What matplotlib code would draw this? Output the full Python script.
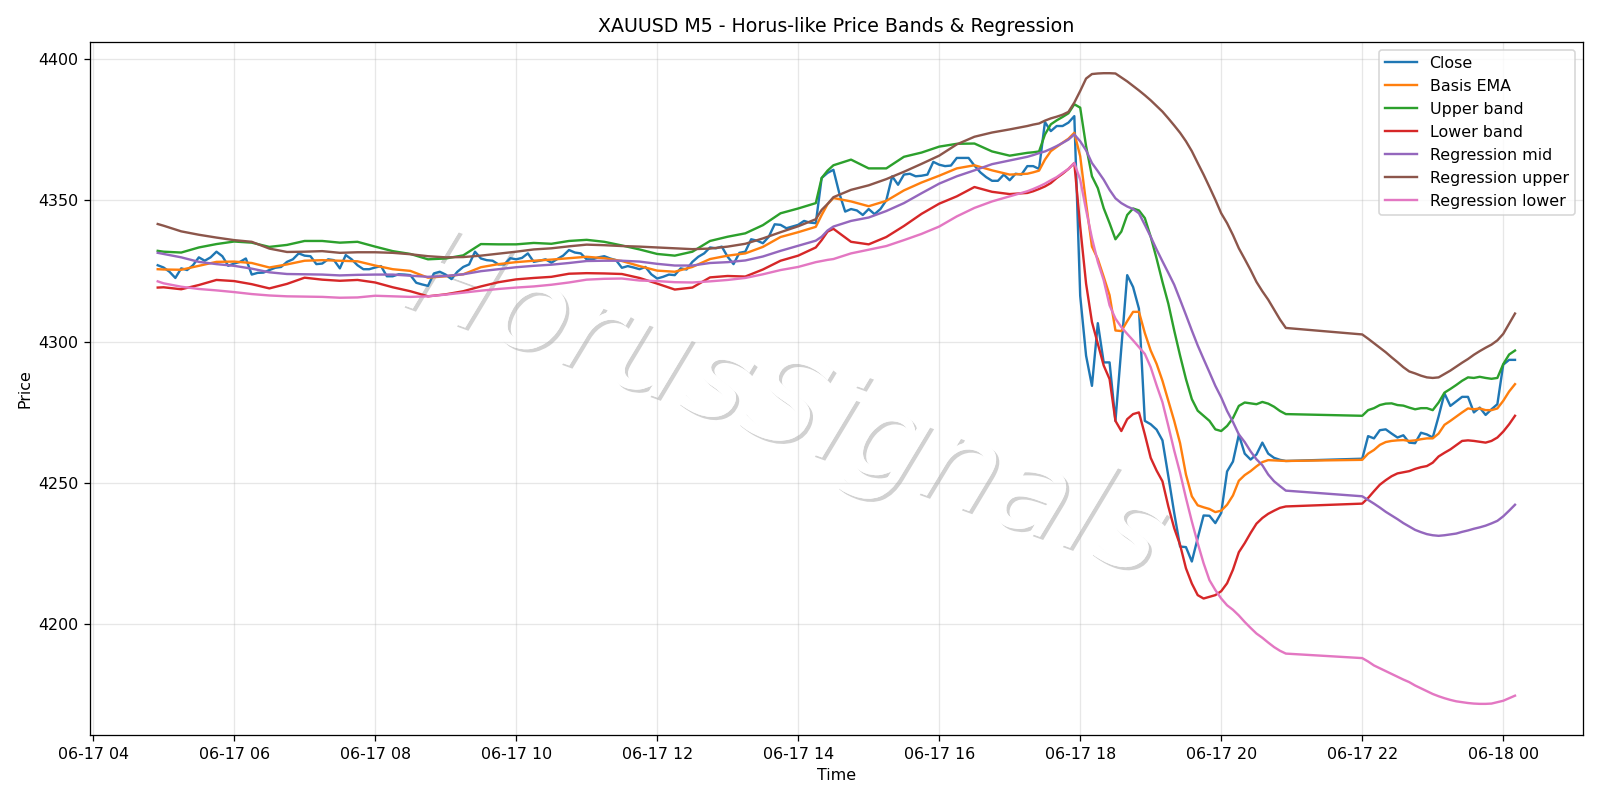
"""
XAUUSD M5 chart with Horus-like price bands and regression channel.
"""
import matplotlib
matplotlib.use('Agg')
import matplotlib.pyplot as plt
import matplotlib.patheffects as pe
import pandas as pd

# Close prices, one per M5 bar (04:55-20:55, then 22:00-00:10)
close = [
    # 04:55 - 08:20
    4327.0, 4326.2, 4324.7, 4322.5, 4325.9, 4325.3, 4327.0, 4329.8, 4328.6, 4329.8,
    4331.8, 4330.2, 4326.8, 4327.6, 4328.2, 4329.4, 4323.7, 4324.3, 4324.4, 4325.3,
    4326.1, 4326.4, 4328.2, 4329.1, 4331.2, 4330.4, 4330.2, 4327.4, 4327.6, 4329.1,
    4328.8, 4325.9, 4330.6, 4329.1, 4327.0, 4325.6, 4325.6, 4326.2, 4326.7, 4323.1,
    4323.1, 4323.8,
    # 08:25 - 12:00
    4323.7, 4323.5, 4320.8, 4320.2, 4319.7, 4324.1, 4324.7, 4323.7, 4322.1, 4324.7,
    4326.4, 4327.3, 4331.8, 4329.4, 4328.8, 4328.6, 4327.3, 4327.3, 4329.5, 4329.1,
    4329.6, 4331.2, 4328.2, 4328.6, 4329.1, 4327.9, 4329.2, 4330.4, 4332.4, 4331.5,
    4331.2, 4329.1, 4329.1, 4329.8, 4330.2, 4329.4, 4328.8, 4326.1, 4326.7, 4326.2,
    4325.6, 4326.4, 4323.8, 4322.3,
    # 12:05 - 15:25
    4322.9, 4323.7, 4323.5, 4325.9, 4325.5, 4328.2, 4330.0, 4331.2, 4333.3, 4333.0,
    4333.6, 4330.0, 4327.4, 4331.4, 4331.8, 4336.2, 4335.7, 4334.8, 4337.1, 4341.5,
    4341.3, 4340.1, 4340.7, 4341.3, 4342.7, 4342.1, 4341.9, 4357.9, 4359.7, 4360.8,
    4352.5, 4346.0, 4346.9, 4346.4, 4344.8, 4346.9, 4345.1, 4346.9, 4350.0, 4358.5,
    4355.5,
    # 15:30 - 17:55
    4359.1, 4359.4, 4358.5, 4358.7, 4359.1, 4363.6, 4362.6, 4362.1, 4362.3, 4365.0,
    4365.0, 4365.0, 4362.3, 4359.9, 4358.2, 4356.9, 4356.9, 4359.1, 4357.1, 4359.4,
    4359.1, 4362.1, 4362.1, 4361.1, 4377.7, 4374.5, 4376.3, 4376.3, 4377.5, 4379.8,
    # 18:00 - 20:55
    4316.2, 4295.0, 4284.3, 4306.5, 4292.6, 4292.6, 4271.9, 4297.5, 4323.5, 4319.3,
    4311.6, 4271.9, 4270.7, 4268.8, 4265.0, 4252.3, 4239.3, 4227.4, 4227.2, 4222.1,
    4230.4, 4238.4, 4238.3, 4235.7, 4239.3, 4254.0, 4257.5, 4267.0, 4260.3, 4258.2,
    4260.0, 4264.2, 4260.3, 4258.8, 4258.1, 4257.7,
    # 22:00 - 00:10
    4258.5, 4266.5, 4265.7, 4268.6, 4268.9, 4267.4, 4266.0, 4266.8, 4264.2, 4264.0,
    4267.7, 4267.1, 4266.0, 4273.5, 4281.6, 4277.2, 4278.8, 4280.4, 4280.4, 4274.9,
    4276.6, 4274.0, 4276.0, 4277.8, 4291.8, 4293.5, 4293.5,
]

# Band series sampled every 15 min until 17:15 (plus 04:55, 14:20, 14:25),
# then every 5 min from 17:20
basis_ema = [
    4325.6, 4325.5, 4325.4, 4326.8, 4328.2, 4328.3, 4327.8, 4326.2, 4327.3, 4328.6,
    4328.8, 4328.6, 4328.4, 4326.9, 4325.6, 4325.0, 4322.6, 4323.1, 4323.8, 4326.3,
    4327.4, 4328.1, 4328.6, 4329.0, 4329.5, 4330.0, 4329.5, 4328.5, 4326.7, 4325.1,
    4324.7, 4326.4, 4329.2, 4330.4, 4331.2, 4333.5, 4337.0, 4338.7, 4340.6, 4344.8,
    4348.6, 4350.8, 4349.6, 4347.9, 4349.8, 4353.5, 4356.3, 4358.7, 4361.3, 4362.4,
    4360.6, 4359.1, 4359.4,
    4359.9, 4360.5, 4364.4, 4367.4, 4368.9, 4370.4, 4371.8, 4373.9, 4365.6, 4349.0,
    4333.6, 4329.2, 4322.9, 4316.4, 4303.9, 4303.7, 4307.2, 4310.5, 4310.5, 4303.0,
    4296.8, 4292.1, 4286.1, 4279.0, 4271.9, 4264.0, 4252.9, 4245.2, 4242.0, 4241.3,
    4240.7, 4239.6, 4240.1, 4242.2, 4245.5, 4250.7, 4252.7, 4254.1, 4255.8, 4257.3,
    4258.0, 4257.9, 4257.8, 4257.7,
    4258.1, 4260.3, 4261.6, 4263.4, 4264.4, 4264.8, 4265.0, 4265.1, 4264.8, 4265.0,
    4265.4, 4265.7, 4265.7, 4267.4, 4270.5, 4271.9, 4273.4, 4274.9, 4276.3, 4276.0,
    4276.3, 4275.7, 4275.7, 4276.3, 4279.0, 4282.3, 4284.9,
]

upper_band = [
    4332.1, 4331.8, 4331.5, 4333.3, 4334.5, 4335.4, 4335.0, 4333.5, 4334.2, 4335.6,
    4335.6, 4335.0, 4335.3, 4333.6, 4332.0, 4331.0, 4329.1, 4329.4, 4330.5, 4334.5,
    4334.4, 4334.4, 4334.9, 4334.6, 4335.6, 4336.0, 4335.3, 4334.0, 4332.6, 4331.0,
    4330.4, 4331.8, 4335.6, 4337.1, 4338.3, 4341.2, 4345.4, 4347.1, 4349.0, 4357.9,
    4360.5, 4362.4, 4364.4, 4361.3, 4361.3, 4365.4, 4366.9, 4369.0, 4370.0, 4370.1,
    4367.3, 4365.8, 4366.8,
    4367.0, 4367.3, 4373.3, 4376.9, 4378.3, 4379.5, 4380.8, 4384.0, 4382.8, 4369.2,
    4358.5, 4354.3, 4347.2, 4341.9, 4336.2, 4338.9, 4344.8, 4347.1, 4346.4, 4343.7,
    4337.1, 4329.4, 4321.1, 4313.4, 4303.9, 4295.0, 4286.7, 4279.6, 4275.5, 4273.7,
    4271.9, 4268.9, 4268.3, 4270.1, 4272.9, 4277.2, 4278.4, 4278.1, 4277.8, 4278.6,
    4278.0, 4276.9, 4275.4, 4274.3,
    4273.7, 4275.7, 4276.4, 4277.5, 4278.0, 4278.1, 4277.5, 4277.3, 4276.6, 4276.0,
    4276.4, 4276.4, 4275.7, 4278.4, 4281.9, 4283.2, 4284.6, 4286.1, 4287.3, 4287.1,
    4287.5, 4287.1, 4286.8, 4287.1, 4292.0, 4295.4, 4296.8,
]

lower_band = [
    4319.1, 4319.2, 4318.5, 4320.0, 4321.8, 4321.4, 4320.3, 4318.8, 4320.4, 4322.6,
    4321.9, 4321.5, 4321.8, 4320.9, 4319.2, 4317.8, 4316.0, 4316.7, 4317.8, 4319.5,
    4321.0, 4322.0, 4322.5, 4322.9, 4324.0, 4324.2, 4324.1, 4323.9, 4322.5, 4320.5,
    4318.4, 4319.1, 4322.7, 4323.2, 4323.0, 4325.5, 4328.6, 4330.4, 4333.3, 4335.9,
    4338.9, 4339.9, 4335.3, 4334.4, 4337.0, 4340.9, 4345.2, 4348.8, 4351.4, 4354.7,
    4353.0, 4352.2, 4352.6,
    4353.2, 4354.0, 4354.9, 4356.1, 4357.9, 4359.4, 4361.1, 4363.2, 4340.7, 4320.5,
    4306.9, 4299.2, 4291.5, 4286.7, 4271.9, 4268.3, 4272.5, 4274.3, 4274.9, 4267.1,
    4258.8, 4254.3, 4250.5, 4241.6, 4233.9, 4228.0, 4219.7, 4214.3, 4210.2, 4209.0,
    4209.6, 4210.2, 4211.6, 4214.4, 4219.2, 4225.4, 4228.6, 4232.2, 4235.5, 4237.5,
    4239.0, 4240.1, 4241.1, 4241.6,
    4242.6, 4244.6, 4247.0, 4249.3, 4250.9, 4252.3, 4253.3, 4253.7, 4254.1, 4254.9,
    4255.5, 4255.9, 4257.1, 4259.3, 4260.6, 4261.8, 4263.3, 4264.8, 4265.0, 4264.8,
    4264.5, 4264.2, 4264.8, 4266.0, 4268.1, 4270.7, 4273.7,
]

reg_mid = [
    4331.4, 4331.0, 4329.8, 4328.2, 4327.4, 4326.8, 4325.8, 4324.5, 4323.9, 4323.8,
    4323.7, 4323.4, 4323.6, 4323.7, 4323.7, 4323.3, 4322.9, 4323.2, 4323.8, 4324.9,
    4325.6, 4326.3, 4326.8, 4327.2, 4327.8, 4328.5, 4328.6, 4328.6, 4328.3, 4327.5,
    4326.9, 4326.9, 4327.8, 4328.1, 4328.7, 4330.1, 4332.1, 4333.9, 4335.7, 4337.1,
    4339.3, 4340.7, 4342.7, 4343.9, 4346.2, 4349.0, 4352.5, 4355.9, 4358.5, 4360.6,
    4362.8, 4364.1, 4365.4,
    4366.0, 4366.7, 4367.3, 4368.2, 4369.2, 4370.3, 4371.5, 4373.3, 4370.9, 4367.7,
    4363.2, 4360.3, 4357.3, 4353.7, 4350.7, 4349.0, 4347.8, 4346.9, 4345.4, 4341.3,
    4337.1, 4332.6, 4328.4, 4324.3, 4320.1, 4314.8, 4309.4, 4303.9, 4298.6, 4293.8,
    4289.1, 4284.3, 4280.2, 4275.4, 4271.5, 4267.1, 4264.4, 4261.1, 4258.3, 4256.2,
    4252.9, 4250.5, 4248.8, 4247.2,
    4245.2, 4243.9, 4242.6, 4241.2, 4239.7, 4238.4, 4237.1, 4235.7, 4234.5, 4233.3,
    4232.5, 4231.8, 4231.4, 4231.2, 4231.4, 4231.7, 4232.0, 4232.6, 4233.1, 4233.7,
    4234.2, 4234.8, 4235.6, 4236.5, 4238.1, 4240.1, 4242.2,
]

reg_upper = [
    4341.6, 4341.0, 4339.0, 4337.8, 4336.8, 4335.9, 4335.3, 4332.9, 4331.7, 4331.8,
    4332.0, 4331.4, 4331.6, 4331.6, 4331.4, 4330.9, 4330.2, 4329.8, 4329.9, 4330.4,
    4331.1, 4331.8, 4332.6, 4333.0, 4333.7, 4334.3, 4334.1, 4333.8, 4333.6, 4333.3,
    4333.0, 4332.7, 4332.9, 4333.6, 4334.6, 4336.5, 4338.7, 4340.8, 4343.3, 4346.6,
    4348.7, 4351.1, 4353.7, 4355.3, 4357.5, 4360.1, 4362.9, 4365.8, 4369.8, 4372.5,
    4374.0, 4375.1, 4376.3,
    4376.8, 4377.2, 4378.2, 4379.0, 4379.6, 4380.3, 4381.3, 4384.6, 4388.7, 4393.1,
    4394.7, 4394.9, 4395.0, 4395.0, 4394.9, 4393.5, 4392.1, 4390.5, 4388.9, 4387.2,
    4385.4, 4383.4, 4381.4, 4379.0, 4376.5, 4373.9, 4370.9, 4367.4, 4363.2, 4359.1,
    4354.7, 4350.2, 4345.4, 4341.9, 4337.7, 4333.0, 4329.2, 4325.3, 4321.1, 4317.8,
    4314.8, 4311.3, 4307.8, 4304.8,
    4302.5, 4301.0, 4299.4, 4297.8, 4296.2, 4294.4, 4292.7, 4290.9, 4289.4, 4288.7,
    4287.9, 4287.3, 4287.1, 4287.3, 4288.5, 4289.7, 4291.1, 4292.5, 4293.8, 4295.3,
    4296.6, 4297.8, 4298.9, 4300.4, 4302.7, 4306.3, 4309.9,
]

reg_lower = [
    4321.3, 4320.6, 4319.4, 4318.6, 4318.1, 4317.5, 4316.8, 4316.3, 4316.0, 4315.9,
    4315.8, 4315.5, 4315.6, 4316.2, 4316.0, 4315.8, 4316.0, 4316.6, 4317.3, 4318.0,
    4318.6, 4319.1, 4319.5, 4320.1, 4320.9, 4321.9, 4322.2, 4322.3, 4321.6, 4321.4,
    4321.0, 4320.9, 4321.3, 4321.8, 4322.5, 4323.8, 4325.3, 4326.4, 4328.1, 4328.5,
    4328.9, 4329.2, 4331.2, 4332.5, 4333.8, 4335.9, 4338.1, 4340.7, 4344.3, 4347.3,
    4349.6, 4351.4, 4353.2,
    4354.0, 4354.9, 4355.9, 4357.1, 4358.2, 4359.7, 4361.1, 4363.2, 4357.3, 4346.6,
    4336.6, 4328.2, 4321.7, 4312.8, 4308.1, 4305.1, 4302.7, 4300.4, 4298.0, 4295.6,
    4290.9, 4284.5, 4278.5, 4270.1, 4261.4, 4253.5, 4244.6, 4236.3, 4228.6, 4221.5,
    4215.5, 4212.0, 4209.0, 4206.6, 4205.0, 4203.0, 4200.7, 4198.6, 4196.6, 4195.1,
    4193.4, 4191.8, 4190.5, 4189.5,
    4187.9, 4186.7, 4185.3, 4184.3, 4183.3, 4182.3, 4181.3, 4180.3, 4179.4, 4178.2,
    4177.2, 4176.2, 4175.2, 4174.4, 4173.7, 4173.1, 4172.6, 4172.3, 4172.0, 4171.8,
    4171.7, 4171.7, 4171.8, 4172.3, 4172.8, 4173.7, 4174.6,
]

# Time axes
close_times = pd.date_range("2025-06-17 04:55", "2025-06-17 20:55", freq="5min").append(
    pd.date_range("2025-06-17 22:00", "2025-06-18 00:10", freq="5min"))

quarter = pd.date_range("2025-06-17 05:00", "2025-06-17 17:15", freq="15min")
extra = pd.to_datetime(["2025-06-17 04:55", "2025-06-17 14:20", "2025-06-17 14:25"])
band_times = (quarter.append(extra).sort_values()
              .append(pd.date_range("2025-06-17 17:20", "2025-06-17 20:55", freq="5min"))
              .append(pd.date_range("2025-06-17 22:00", "2025-06-18 00:10", freq="5min")))

DPI = 1600 / 14

fig, ax = plt.subplots(figsize=(14, 7), dpi=DPI)

ax.plot(close_times, close, label='Close')
ax.plot(band_times, basis_ema, label='Basis EMA')
ax.plot(band_times, upper_band, label='Upper band')
ax.plot(band_times, lower_band, label='Lower band')
ax.plot(band_times, reg_mid, label='Regression mid')
ax.plot(band_times, reg_upper, label='Regression upper')
ax.plot(band_times, reg_lower, label='Regression lower')

ax.set_title('XAUUSD M5 - Horus-like Price Bands & Regression')
ax.set_xlabel('Time')
ax.set_ylabel('Price')
ax.grid(True, alpha=0.3)
ax.legend(loc='upper right')

# Watermark, kept behind the grid and the lines
ax.text(0.49, 0.49, 'HorusSignals', transform=fig.transFigure, fontsize=77,
        color='white', style='italic', rotation=-20, ha='center', va='center',
        zorder=1,
        path_effects=[pe.withSimplePatchShadow(offset=(2, -2), shadow_rgbFace='black', alpha=0.18),
                      pe.Normal()])

plt.tight_layout()
fig.savefig('out.png', dpi=DPI)
plt.close(fig)
